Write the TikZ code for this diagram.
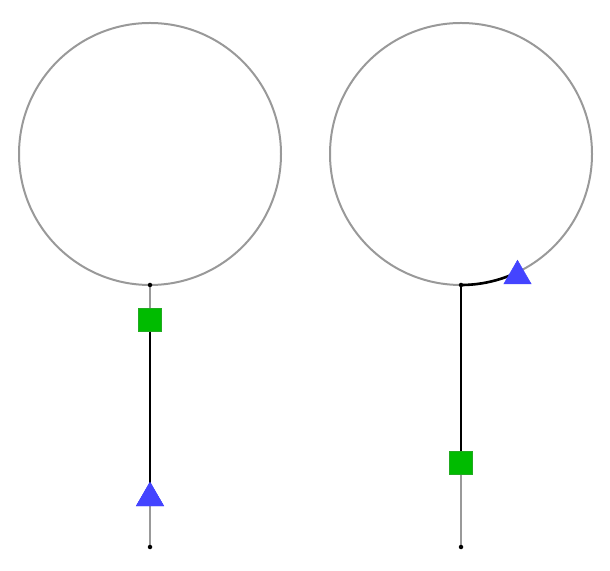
\documentclass[tikz,border=0pt]{standalone}
\usetikzlibrary{shapes.geometric}
\definecolor{ringgray}{HTML}{999999}
\definecolor{sqfill}{HTML}{00BB00}
\definecolor{sqdraw}{HTML}{22AA22}
\definecolor{trifill}{HTML}{4444FF}
\begin{document}
\begin{tikzpicture}[x=1pt,y=1pt,
  ring/.style={draw=ringgray,line width=2pt},
  thin/.style={draw=ringgray,line width=2pt},
  thick/.style={draw=black,line width=2.6pt},
  dot/.style={circle,fill=black,inner sep=0pt,minimum size=4.5pt},
  sq/.style={rectangle,fill=sqfill,draw=sqdraw,line width=1pt,inner sep=0pt,minimum size=23pt},
  tri/.style={regular polygon,regular polygon sides=3,fill=trifill,draw=trifill,line width=0.5pt,inner sep=0pt,minimum size=31.5pt}]
\useasboundingbox (0,0) rectangle (610,570);
% left
\draw[ring] (150,416) circle[radius=131];
\coordinate (la) at (150,285);
\coordinate (lb) at (150,23);
\draw[thin] (la) -- (lb);
\node[sq] (lsq) at (150,250) {};
\node[tri] (ltri) at (150,72) {};
\draw[thick] (lsq.center) -- (ltri.center);
\node[sq] at (150,250) {};
\node[tri] at (150,72) {};
\node[dot] at (la) {};
\node[dot] at (lb) {};
% right
\draw[ring] (461,416) circle[radius=131];
\coordinate (ra) at (461,285);
\coordinate (rb) at (461,23);
\node[sq] (rsq) at (461,107) {};
\draw[thin] (rsq.center) -- (rb);
\draw[thick] (ra) -- (rsq.center);
\draw[thick] (ra) arc[start angle=-90,end angle=-65,radius=131];
\node[sq] at (461,107) {};
\node[tri] (rtri) at (517.5,294) {};
\node[dot] at (ra) {};
\node[dot] at (rb) {};
\end{tikzpicture}
\end{document}
